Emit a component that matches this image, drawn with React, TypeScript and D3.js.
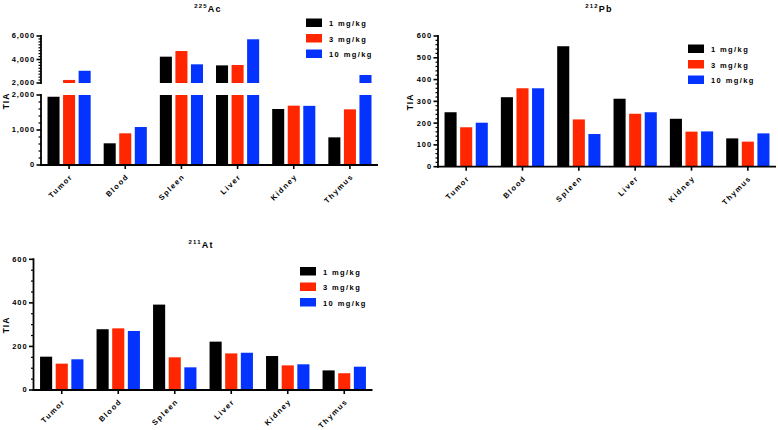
import React, { useEffect, useRef } from 'react';
import * as d3 from 'd3';

const organs = ["Tumor", "Blood", "Spleen", "Liver", "Kidney", "Thymus"];
const doses = ["1 mg/kg", "3 mg/kg", "10 mg/kg"];
const colors = ["#000000", "#ff2600", "#0433ff"];

// 225Ac TIA (broken axis, 0-2000 / 2000-6000)
const ac1 = [1950, 620, 4240, 3500, 1600, 790];
const ac3 = [2260, 905, 4720, 3530, 1695, 1590];
const ac10 = [3040, 1085, 3590, 5720, 1690, 2680];

// 212Pb TIA
const pb1 = [250, 319, 553, 312, 220, 130];
const pb3 = [181, 360, 217, 243, 161, 115];
const pb10 = [202, 360, 150, 250, 162, 153];

// 211At TIA
const at1 = [153, 279, 392, 222, 156, 90];
const at3 = [121, 283, 150, 168, 113, 77];
const at10 = [141, 271, 104, 171, 118, 107];

const FONT = "'Liberation Sans', Arial, sans-serif";

function fmt(v) {
  return d3.format(",")(v);
}

// one y segment: a vertical axis line with major/minor ticks
function drawYSegment(g, x, y, majors, minorStep) {
  const [d0, d1] = y.domain();
  g.append('line')
    .attr('x1', x).attr('x2', x)
    .attr('y1', y(d0) + 1).attr('y2', y(d1) - 1)
    .attr('stroke', '#000').attr('stroke-width', 1.8);
  d3.range(d0, d1 + 0.001, minorStep).forEach(v => {
    const major = majors.indexOf(v) >= 0;
    g.append('line')
      .attr('x1', x).attr('x2', x - (major ? 4.5 : 2.5))
      .attr('y1', y(v)).attr('y2', y(v))
      .attr('stroke', '#000').attr('stroke-width', major ? 1.6 : 1.2);
  });
  majors.forEach(v => {
    g.append('text')
      .attr('x', x - 6).attr('y', y(v)).attr('dy', '0.33em')
      .attr('text-anchor', 'end')
      .attr('font-size', 7.5).attr('font-weight', 'bold')
      .attr('letter-spacing', 0.9)
      .text(fmt(v));
  });
}

function drawPanel(svg, opt) {
  const g = svg.append('g');
  const series = opt.series;
  const x = d3.scaleBand().domain(organs).range(opt.xRange);
  const inner = d3.scaleBand().domain(doses)
    .range([x.bandwidth() * 0.116, x.bandwidth() * 0.884]).paddingInner(0.226);
  const baseY = opt.segments[0].y.range()[0];

  // bars
  opt.segments.forEach(seg => {
    const [lo, hi] = seg.y.domain();
    series.forEach((vals, si) => {
      vals.forEach((v, i) => {
        if (v <= lo) return;
        const top = Math.min(v, hi);
        g.append('rect')
          .attr('x', x(organs[i]) + inner(doses[si]))
          .attr('width', inner.bandwidth())
          .attr('y', seg.y(top))
          .attr('height', seg.y(lo) - seg.y(top))
          .attr('fill', colors[si]);
      });
    });
  });

  // y axis
  const ax = opt.xRange[0];
  opt.segments.forEach(seg => drawYSegment(g, ax, seg.y, seg.majors, seg.minor));

  // x axis
  g.append('line')
    .attr('x1', ax - 0.9).attr('x2', opt.xRange[1])
    .attr('y1', baseY).attr('y2', baseY)
    .attr('stroke', '#000').attr('stroke-width', 1.8);
  organs.forEach(o => {
    const cx = x(o) + x.bandwidth() / 2;
    g.append('line')
      .attr('x1', cx).attr('x2', cx)
      .attr('y1', baseY).attr('y2', baseY + 4)
      .attr('stroke', '#000').attr('stroke-width', 1.6);
    g.append('text')
      .attr('transform', 'translate(' + (cx + 4) + ',' + (baseY + 12) + ') rotate(-45)')
      .attr('text-anchor', 'end')
      .attr('font-size', 7.5).attr('font-weight', 'bold')
      .attr('letter-spacing', 1.5)
      .text(o);
  });

  // y title
  g.append('text')
    .attr('transform', 'translate(' + opt.yTitle[0] + ',' + opt.yTitle[1] + ') rotate(-90)')
    .attr('text-anchor', 'middle')
    .attr('font-size', 8.5).attr('font-weight', 'bold')
    .attr('letter-spacing', 1)
    .text('TIA');

  // chart title with superscript mass number
  const t = g.append('text')
    .attr('x', opt.title[0]).attr('y', opt.title[1])
    .attr('text-anchor', 'middle')
    .attr('font-weight', 'bold')
    .attr('letter-spacing', 1.2);
  t.append('tspan').attr('font-size', 6).attr('dy', -4).text(opt.iso[0]);
  t.append('tspan').attr('font-size', 9).attr('dy', 4).text(opt.iso[1]);

  // legend
  doses.forEach((d, i) => {
    const ly = opt.legend[1] + i * 15.5;
    g.append('rect')
      .attr('x', opt.legend[0]).attr('y', ly)
      .attr('width', 16).attr('height', 8.5)
      .attr('fill', colors[i]);
    g.append('text')
      .attr('x', opt.legend[0] + 23).attr('y', ly + 7.5)
      .attr('font-size', 7.5).attr('font-weight', 'bold')
      .attr('letter-spacing', 1.4)
      .text(d);
  });
}

export default function App() {
  const ref = useRef(null);

  useEffect(() => {
    const svg = d3.select(ref.current);
    svg.selectAll('*').remove();
    svg.attr('font-family', FONT);

    drawPanel(svg, {
      series: [ac1, ac3, ac10],
      xRange: [41, 378],
      segments: [
        { y: d3.scaleLinear().domain([0, 2000]).range([165, 95]), majors: [0, 1000, 2000], minor: 200 },
        { y: d3.scaleLinear().domain([2000, 6000]).range([83, 36]), majors: [2000, 4000, 6000], minor: 250 },
      ],
      yTitle: [9, 101],
      title: [208, 12],
      iso: ['225', 'Ac'],
      legend: [306, 18.5],
    });

    drawPanel(svg, {
      series: [pb1, pb3, pb10],
      xRange: [438, 776],
      segments: [
        { y: d3.scaleLinear().domain([0, 600]).range([166.7, 36]), majors: [0, 100, 200, 300, 400, 500, 600], minor: 20 },
      ],
      yTitle: [413, 102],
      title: [599, 12],
      iso: ['212', 'Pb'],
      legend: [688, 44.5],
    });

    drawPanel(svg, {
      series: [at1, at3, at10],
      xRange: [33.5, 372.5],
      segments: [
        { y: d3.scaleLinear().domain([0, 600]).range([390, 259.3]), majors: [0, 200, 400, 600], minor: 50 },
      ],
      yTitle: [9, 325],
      title: [201, 248],
      iso: ['211', 'At'],
      legend: [300, 267],
    });
  }, []);

  return (
    <svg ref={ref} width={778} height={430}
         style={{ position: 'absolute', left: 0, top: 0, background: '#fff' }}>
    </svg>
  );
}
